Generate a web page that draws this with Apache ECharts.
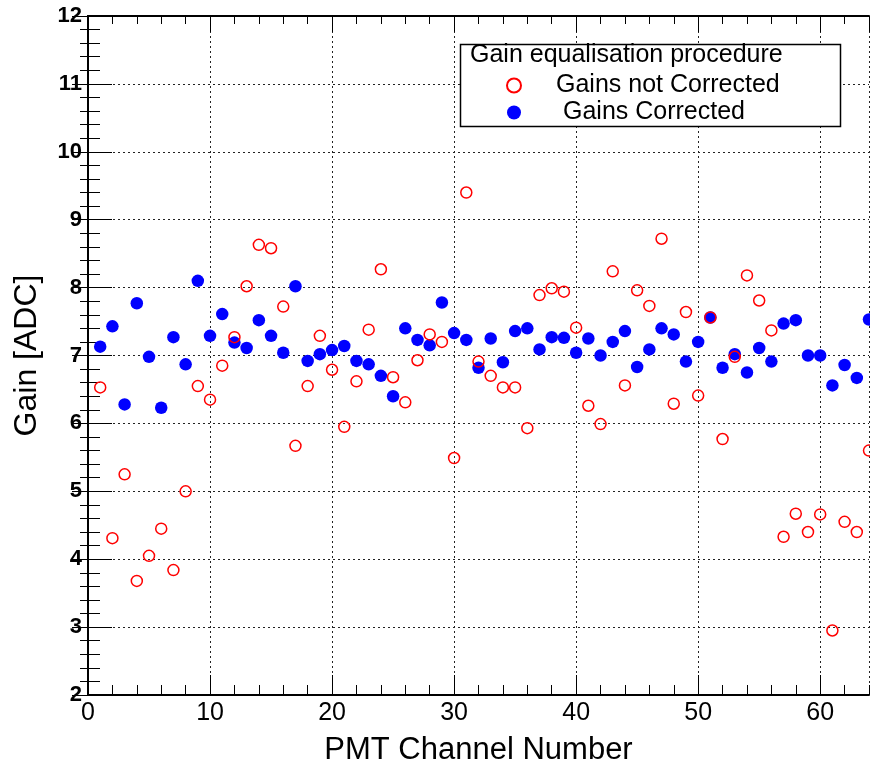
<!DOCTYPE html>
<html>
<head>
<meta charset="utf-8">
<script src="https://cdn.jsdelivr.net/npm/echarts@6/dist/echarts.min.js"></script>
<style>
html,body{margin:0;padding:0;background:#fff;}
#chart{width:870px;height:771px;}
</style>
</head>
<body>
<div id="chart"></div>
<script>
// Channel numbers
const channels = [];
for (let i = 1; i <= 64; i++) channels.push(i);

// Gains not corrected (red open circles)
const gainsNotCorrected = [
  6.53, 4.31, 5.25, 3.68, 4.05, 4.45, 3.84, 5.00, 6.55, 6.35,
  6.85, 7.27, 8.02, 8.63, 8.58, 7.72, 5.67, 6.55, 7.29, 6.79,
  5.95, 6.62, 7.38, 8.27, 6.68, 6.31, 6.93, 7.31, 7.20, 5.49,
  9.40, 6.91, 6.70, 6.53, 6.53, 5.93, 7.89, 7.99, 7.94, 7.41,
  6.26, 5.99, 8.24, 6.56, 7.96, 7.73, 8.72, 6.29, 7.64, 6.41,
  7.56, 5.77, 6.98, 8.18, 7.81, 7.37, 4.33, 4.67, 4.40, 4.66,
  2.95, 4.55, 4.40, 5.60
];

// Gains corrected (blue filled circles)
const gainsCorrected = [
  7.13, 7.43, 6.28, 7.77, 6.98, 6.23, 7.27, 6.87, 8.10, 7.29,
  7.61, 7.19, 7.11, 7.52, 7.29, 7.04, 8.02, 6.92, 7.02, 7.08,
  7.14, 6.92, 6.87, 6.70, 6.40, 7.40, 7.23, 7.15, 7.78, 7.33,
  7.23, 6.82, 7.25, 6.90, 7.36, 7.40, 7.09, 7.27, 7.26, 7.04,
  7.25, 7.00, 7.20, 7.36, 6.83, 7.09, 7.40, 7.31, 6.91, 7.20,
  7.56, 6.82, 7.02, 6.75, 7.11, 6.91, 7.47, 7.52, 7.00, 7.00,
  6.56, 6.86, 6.67, 7.53
];

const xRange = [0, 64];
const yRange = [2, 12];
const legendTitle = 'Gain equalisation procedure';
const seriesNames = ['Gains not Corrected', 'Gains Corrected'];
const xTitle = 'PMT Channel Number';
const yTitle = 'Gain [ADC]';

const FONT = '"Liberation Sans", Arial, Helvetica, sans-serif';
const dotted = { color: '#222', width: 1, type: [2, 3] };

const chart = echarts.init(document.getElementById('chart'));

function xAx(pos, interval, tickLen, opts) {
  return Object.assign({
    type: 'value', position: pos, min: xRange[0], max: xRange[1], interval: interval,
    axisLine: { show: false },
    axisTick: { show: true, inside: true, length: tickLen, lineStyle: { color: '#000', width: 1 } },
    axisLabel: { show: false },
    splitLine: { show: false }
  }, opts || {});
}

const option = {
  animation: false,
  backgroundColor: '#fff',
  grid: { left: 88, right: 1, top: 16, bottom: 74, containLabel: false },
  xAxis: [
    xAx('bottom', 10, 20, {
      name: xTitle, nameLocation: 'middle', nameGap: 40,
      nameTextStyle: { fontFamily: FONT, fontSize: 31, color: '#000' },
      axisLine: { show: true, lineStyle: { color: '#000', width: 2 } },
      axisLabel: { show: true, fontFamily: FONT, fontSize: 25, color: '#000', margin: 6, showMaxLabel: false },
      splitLine: { show: true, lineStyle: dotted }
    }),
    xAx('bottom', 2, 10),
    xAx('top', 10, 16, { axisLine: { show: true, lineStyle: { color: '#000', width: 2 } } }),
    xAx('top', 2, 8)
  ],
  yAxis: [
    {
      type: 'value', position: 'left', min: yRange[0], max: yRange[1], interval: 1,
      name: yTitle, nameLocation: 'middle', nameGap: 45, nameRotate: 90,
      nameTextStyle: { fontFamily: FONT, fontSize: 32, color: '#000' },
      axisLine: { show: true, lineStyle: { color: '#000', width: 2 } },
      axisTick: { show: true, inside: true, length: 24, lineStyle: { color: '#000', width: 1 } },
      minorTick: { show: true, splitNumber: 5, length: 12, lineStyle: { color: '#000', width: 1 } },
      axisLabel: { fontFamily: FONT, fontSize: 22, fontWeight: 'bold', color: '#000', margin: 6 },
      splitLine: { show: true, lineStyle: dotted }
    },
    {
      type: 'value', position: 'right', min: yRange[0], max: yRange[1], interval: 1,
      axisLine: { show: true, lineStyle: { color: '#000', width: 2 } },
      axisTick: { show: true, inside: true, length: 16, lineStyle: { color: '#000', width: 1 } },
      minorTick: { show: true, splitNumber: 5, length: 8, lineStyle: { color: '#000', width: 1 } },
      axisLabel: { show: false },
      splitLine: { show: false }
    }
  ],
  legend: {
    orient: 'vertical', left: 501, top: 68, z: 20,
    itemWidth: 14, itemHeight: 14, itemGap: 2,
    textStyle: { fontFamily: FONT, fontSize: 25, color: '#000', lineHeight: 25 },
    data: [
      { name: seriesNames[0], textStyle: { padding: [0, 0, 0, 30] } },
      { name: seriesNames[1], textStyle: { padding: [0, 0, 0, 37] } }
    ]
  },
  graphic: [
    { type: 'rect', z: 10, shape: { x: 460.5, y: 44.5, width: 380, height: 82 },
      style: { fill: '#fff', stroke: '#000', lineWidth: 1.5 } },
    { type: 'text', z: 21, left: 470, top: 43,
      style: { text: legendTitle, font: '25px ' + FONT, fill: '#000' } }
  ],
  series: [
    {
      name: seriesNames[1], type: 'scatter', xAxisIndex: 0, yAxisIndex: 0,
      symbol: 'circle', symbolSize: 12.5,
      itemStyle: { color: '#0000ff', opacity: 1 },
      data: channels.map((c, i) => [c, gainsCorrected[i]])
    },
    {
      name: seriesNames[0], type: 'scatter', xAxisIndex: 0, yAxisIndex: 0,
      symbol: 'circle', symbolSize: 11,
      itemStyle: { color: 'rgba(255,255,255,0)', borderColor: '#ff0000', borderWidth: 1.5, opacity: 1 },
      data: channels.map((c, i) => [c, gainsNotCorrected[i]])
    }
  ]
};
chart.setOption(option);
</script>
</body>
</html>
